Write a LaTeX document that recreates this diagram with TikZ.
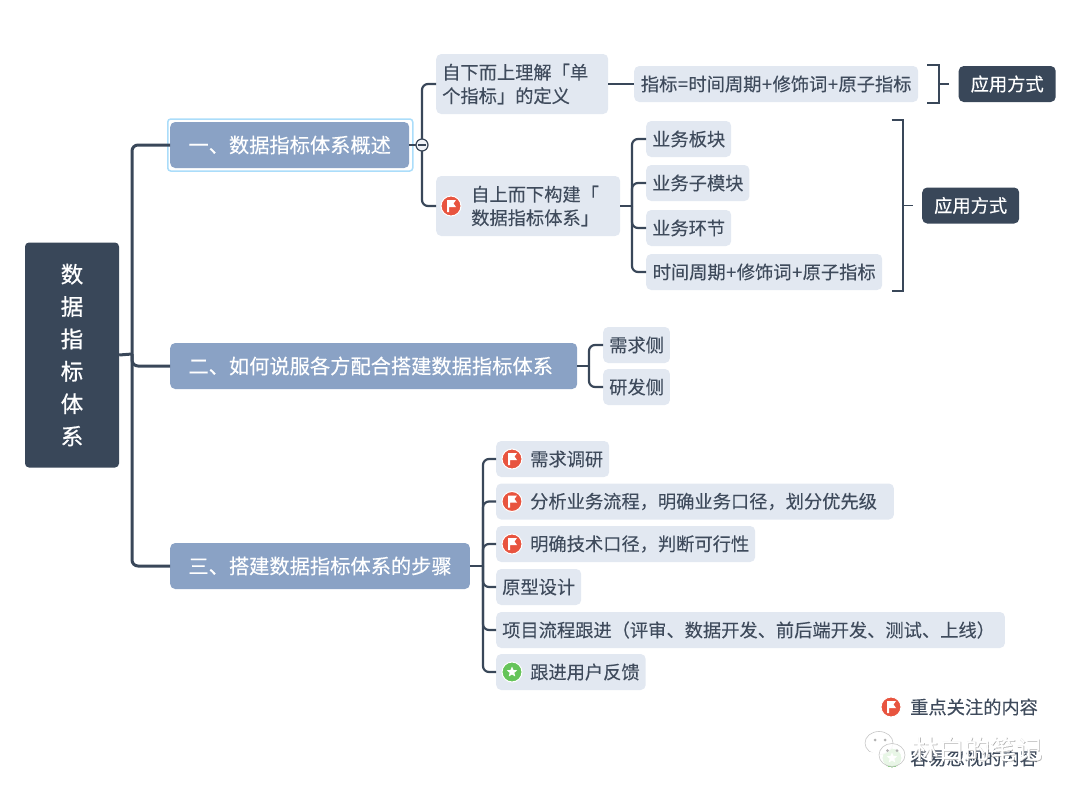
\documentclass[tikz,border=0pt]{standalone}
\usepackage{fontspec}
\setmainfont{Noto Sans CJK SC}[FakeBold=.12]
\newfontfamily\midfont{Noto Sans CJK SC}[FakeBold=.3]
\newfontfamily\heavyfont{Noto Sans CJK SC}[FakeBold=.8]
\usepackage{xcolor}
\usepackage{tikz}
\usetikzlibrary{shapes.geometric}
\definecolor{rootcol}{HTML}{394759}
\definecolor{topcol}{HTML}{8AA2C5}
\definecolor{leafcol}{HTML}{E2E8F1}
\definecolor{inkcol}{HTML}{3F4B5C}
\definecolor{glowcol}{HTML}{ABDDFA}
\definecolor{redcol}{HTML}{E8543F}
\definecolor{greencol}{HTML}{66C45A}
\tikzset{
  rootbox/.style={fill=rootcol,text=white,rounded corners=4pt,minimum width=94pt,minimum height=225pt,inner sep=0pt,align=center,font=\heavyfont\fontsize{22.5}{32.4}\selectfont},
  topbox/.style={anchor=west,fill=topcol,text=white,rounded corners=5pt,minimum height=46pt,inner xsep=18.25pt,inner ysep=0pt,font=\midfont\fontsize{20.25}{24}\selectfont},
  leafbox/.style={anchor=west,fill=leafcol,text=inkcol,rounded corners=5pt,minimum height=36pt,inner xsep=6pt,inner ysep=0pt,font=\fontsize{18.25}{23.5}\selectfont},
  tallbox/.style={leafbox,minimum height=60pt,align=left},
  usebox/.style={anchor=west,fill=rootcol,text=white,rounded corners=5pt,minimum height=36pt,inner xsep=12pt,inner ysep=0pt,font=\midfont\fontsize{18.25}{24}\selectfont},
  legendtxt/.style={anchor=west,text=inkcol,inner sep=0pt,font=\fontsize{18.25}{24}\selectfont},
  conn/.style={draw=rootcol,line width=2.2pt,rounded corners=6pt},
  mainconn/.style={conn,line width=3pt},
  bracket/.style={draw=rootcol,line width=1.8pt},
  dot/.style={circle,draw=white,line width=1pt,minimum size=20pt,inner sep=0pt},
}
\newcommand{\flagicon}[2]{\node[dot,fill=redcol](#1)at(#2){};
  \fill[white]([xshift=-4pt,yshift=-6pt]#1.center)--++(0,-12)--++(9,0)--++(-2.5,3.5)--++(2.5,3.5)--++(-7,0)--++(0,5)--cycle;}
\newcommand{\staricon}[2]{\node[dot,fill=greencol](#1)at(#2){};
  \node[star,star points=5,star point ratio=2.2,fill=white,minimum size=11pt,inner sep=0pt]at(#1){};}
\newcommand{\pl}{\kern.5pt+\kern.5pt}
\begin{document}
\begin{tikzpicture}[x=1pt,y=-1pt]
    \useasboundingbox(0,0)rectangle(1080,798);

    \node[rootbox](root)at(72,355){数\\据\\指\\标\\体\\系};

    \node[anchor=west,draw=glowcol,line width=1.5pt,fill=white,rounded corners=3pt,minimum width=245pt,minimum height=52pt,inner sep=0pt](glow)at(167,145){};
    \node[topbox](topA)at(170,145){一、数据指标体系概述};
    \node[topbox](topB)at(170,366){二、如何说服各方配合搭建数据指标体系\hspace*{6pt}};
    \node[topbox](topC)at(170,566){三、搭建数据指标体系的步骤};

    \node[tallbox,text width=160pt](defA)at(436,84){自下而上理解「单\\个指标」的定义};
    \node[tallbox,text width=172pt](defB)at(436,206){\hspace*{29pt}自上而下构建「\\\hspace*{29pt}数据指标体系」};
    \node[leafbox,minimum width=284pt](form)at(634,84){指标\kern.5pt=\kern.5pt时间周期\pl 修饰词\pl 原子指标};

    \node[leafbox](layerA)at(646,139){业务板块};
    \node[leafbox](layerB)at(646,183){业务子模块};
    \node[leafbox](layerC)at(646,228){业务环节};
    \node[leafbox,minimum width=236pt](layerD)at(646,272){时间周期\pl 修饰词\pl 原子指标};

    \node[leafbox](sideA)at(603,345){需求侧};
    \node[leafbox](sideB)at(603,387){研发侧};

    \node[leafbox](stepA)at(496,459){\hspace*{28pt}需求调研};
    \node[leafbox](stepB)at(496,501.5){\hspace*{28pt}分析业务流程，明确业务口径，划分优先级\hspace*{11pt}};
    \node[leafbox](stepC)at(496,544){\hspace*{28pt}明确技术口径，判断可行性};
    \node[leafbox](stepD)at(496,587){原型设计};
    \node[leafbox](stepE)at(496,630){项目流程跟进（评审、数据开发、前后端开发、测试、上线）\hspace*{4pt}};
    \node[leafbox](stepF)at(496,672){\hspace*{28pt}跟进用户反馈};

    \node[usebox](useA)at(958.5,84){应用方式};
    \node[usebox](useB)at(922,205.5){应用方式};

    \coordinate(jroot)at(132,354);\coordinate(jA)at(422,145);\coordinate(jB)at(632,206);\coordinate(jC)at(589,366);\coordinate(jD)at(483,566);

    \foreach\i in{topA,topB,topC}{\draw[mainconn](jroot)|-(\i.west);};
    \draw[mainconn](root.east)--(jroot);

    \foreach\i in{defA,defB}{\draw[conn](jA)|-(\i.west);};
    \draw[conn](topA.east)--(jA);
    \draw[conn](defA.east)--(form.west);

    \foreach\i in{layerA,layerB,layerC,layerD}{\draw[conn](jB)|-(\i.west);};
    \draw[conn](defB.east)--(jB);

    \foreach\i in{sideA,sideB}{\draw[conn](jC)|-(\i.west);};
    \draw[conn](topB.east)--(jC);

    \foreach\i in{stepA,stepB,stepC,stepD,stepE,stepF}{\draw[conn](jD)|-(\i.west);};
    \draw[conn](topC.east)--(jD);

    \node[circle,draw=rootcol,line width=1.2pt,fill=leafcol!50,minimum size=12pt,inner sep=0pt](fold)at(jA){};
    \draw[rootcol,line width=1.2pt]([xshift=2.5pt]fold.west)--([xshift=-2.5pt]fold.east);

    \coordinate(brAtop)at(927,65);\coordinate(brAbot)at(927,103);\coordinate(brAmid)at(939,84);\coordinate(brAend)at(949,84);
    \draw[bracket](brAtop)-|(brAmid)|-(brAbot);\draw[bracket](brAmid)--(brAend);
    \coordinate(brBtop)at(891.5,120);\coordinate(brBbot)at(891.5,291);\coordinate(brBmid)at(903,205.5);\coordinate(brBend)at(913,205.5);
    \draw[bracket](brBtop)-|(brBmid)|-(brBbot);\draw[bracket](brBmid)--(brBend);

    \flagicon{iconB}{451,206}
    \flagicon{iconC}{512,459}
    \flagicon{iconD}{512,501.5}
    \flagicon{iconE}{512,544}
    \staricon{iconF}{512,672}

    \flagicon{keyA}{891,707}
    \node[legendtxt](keyAtxt)at(910,707){重点关注的内容};
    \staricon{keyB}{892,758}
    \node[legendtxt](keyBtxt)at(910,758){容易忽视的内容};

    \draw[gray!45,fill=white,line width=.6pt](879,743)ellipse[x radius=14,y radius=11.5];
    \fill[white](869,752)--(874.5,760)--(880,753)--cycle;
    \fill[gray!60](875,740)circle(1.5);\fill[gray!60](885,740)circle(1.5);
    \draw[gray!45,fill=white,fill opacity=.85,line width=.6pt](892,755)ellipse[x radius=13,y radius=11.5];
    \fill[gray!60](887.5,750.7)circle(1.5);\fill[gray!60](897,750.7)circle(1.5);

    \node[anchor=west,inner sep=0pt,text=gray!70,font=\fontsize{26}{28}\selectfont](markshade)at(912.6,749.6){林白的笔记};
    \node[anchor=west,inner sep=0pt,text=white,font=\fontsize{26}{28}\selectfont](mark)at(912,749){林白的笔记};
\end{tikzpicture}
\end{document}
